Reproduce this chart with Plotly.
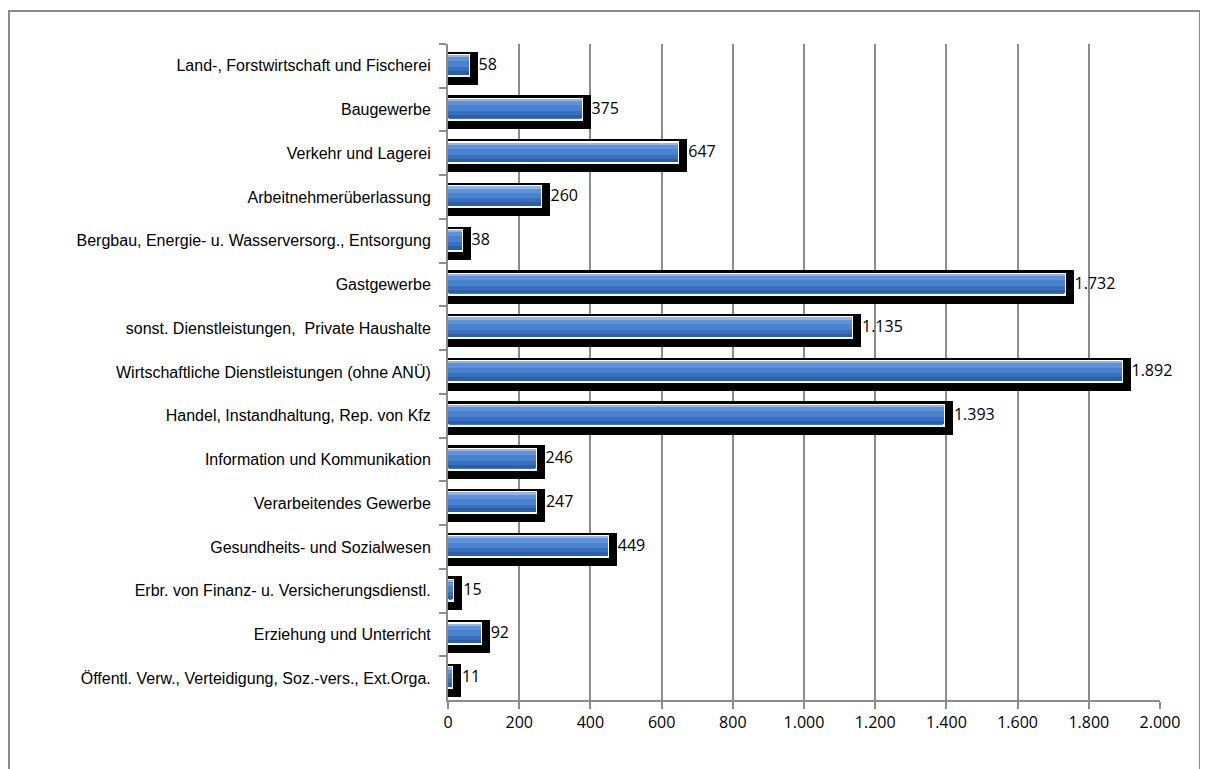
import plotly.graph_objects as go

categories = [
    "Land-, Forstwirtschaft und Fischerei",
    "Baugewerbe",
    "Verkehr und Lagerei",
    "Arbeitnehmerüberlassung",
    "Bergbau, Energie- u. Wasserversorg., Entsorgung",
    "Gastgewerbe",
    "sonst. Dienstleistungen,  Private Haushalte",
    "Wirtschaftliche Dienstleistungen (ohne ANÜ)",
    "Handel, Instandhaltung, Rep. von Kfz",
    "Information und Kommunikation",
    "Verarbeitendes Gewerbe",
    "Gesundheits- und Sozialwesen",
    "Erbr. von Finanz- u. Versicherungsdienstl.",
    "Erziehung und Unterricht",
    "Öffentl. Verw., Verteidigung, Soz.-vers., Ext.Orga.",
]
values = [58, 375, 647, 260, 38, 1732, 1135, 1892, 1393, 246, 247, 449, 15, 92, 11]
x_ticks = list(range(0, 2001, 200))

label_font = "Liberation Sans, Arial, sans-serif"
num_font = "Open Sans, sans-serif"
grid = "#8c8c8c"

# (colour, bar width, offset) layers that imitate the bevelled gradient
bands = [
    ("#4a82cf", 0.30, -0.24),
    ("#5c93db", 0.12, -0.22),
    ("#8db7ec", 0.04, -0.235),
    ("#3a6fbe", 0.10, 0.03),
    ("#2d5fa9", 0.08, 0.12),
]

fig = go.Figure()
# black shadow
fig.add_trace(go.Bar(
    y=categories, x=values, orientation="h",
    width=0.35, offset=-0.12,
    marker=dict(color="black", line=dict(color="black", width=18)),
    hoverinfo="skip", showlegend=False,
))
# blue bar with white edge
fig.add_trace(go.Bar(
    y=categories, x=values, orientation="h",
    width=0.48, offset=-0.25,
    marker=dict(color="#4178c6", line=dict(color="white", width=2)),
    hoverinfo="skip", showlegend=False,
))
for col, w, off in bands:
    fig.add_trace(go.Bar(
        y=categories, x=values, orientation="h",
        width=w, offset=off,
        marker=dict(color=col, line=dict(width=0)),
        hoverinfo="skip", showlegend=False,
    ))
# value labels
fig.add_trace(go.Scatter(
    y=categories, x=values, mode="text",
    text=values, texttemplate="%{x:,}", textposition="middle right",
    textfont=dict(family=num_font, size=16, color="black"),
    xaxis="x2", cliponaxis=False, hoverinfo="skip", showlegend=False,
))

fig.update_layout(
    width=1200, height=761,
    margin=dict(l=440, r=48, t=36, b=69),
    barmode="overlay",
    bargap=0,
    separators=",.",
    paper_bgcolor="white", plot_bgcolor="white",
    font=dict(family=label_font, size=16, color="black"),
    xaxis=dict(
        range=[0, 2000], tickvals=x_ticks, tickformat=",",
        showgrid=True, gridcolor=grid, gridwidth=2,
        showline=True, linecolor=grid, linewidth=2,
        ticks="outside", ticklen=7, tickwidth=2, tickcolor=grid,
        tickfont=dict(family=num_font, size=16, color="black"),
        zeroline=False,
    ),
    xaxis2=dict(
        range=[-28, 1972], overlaying="x", visible=False,
    ),
    yaxis=dict(
        range=[len(categories) - 0.5, -0.5], type="category",
        showgrid=False, showline=True, linecolor=grid, linewidth=2,
        ticks="outside", ticklen=7, tickwidth=2, tickcolor=grid,
        tickson="boundaries", ticklabelstandoff=12,
        tickfont=dict(family=label_font, size=16, color="black"),
    ),
    shapes=[dict(
        type="rect", xref="paper", yref="paper",
        x0=(1 - 440) / 712, x1=(1192 - 440) / 712,
        y0=-0.2, y1=1 + (36 - 3) / 656,
        line=dict(color="#8c8c8c", width=2), layer="below",
    )],
)

fig.write_html("out.html")
